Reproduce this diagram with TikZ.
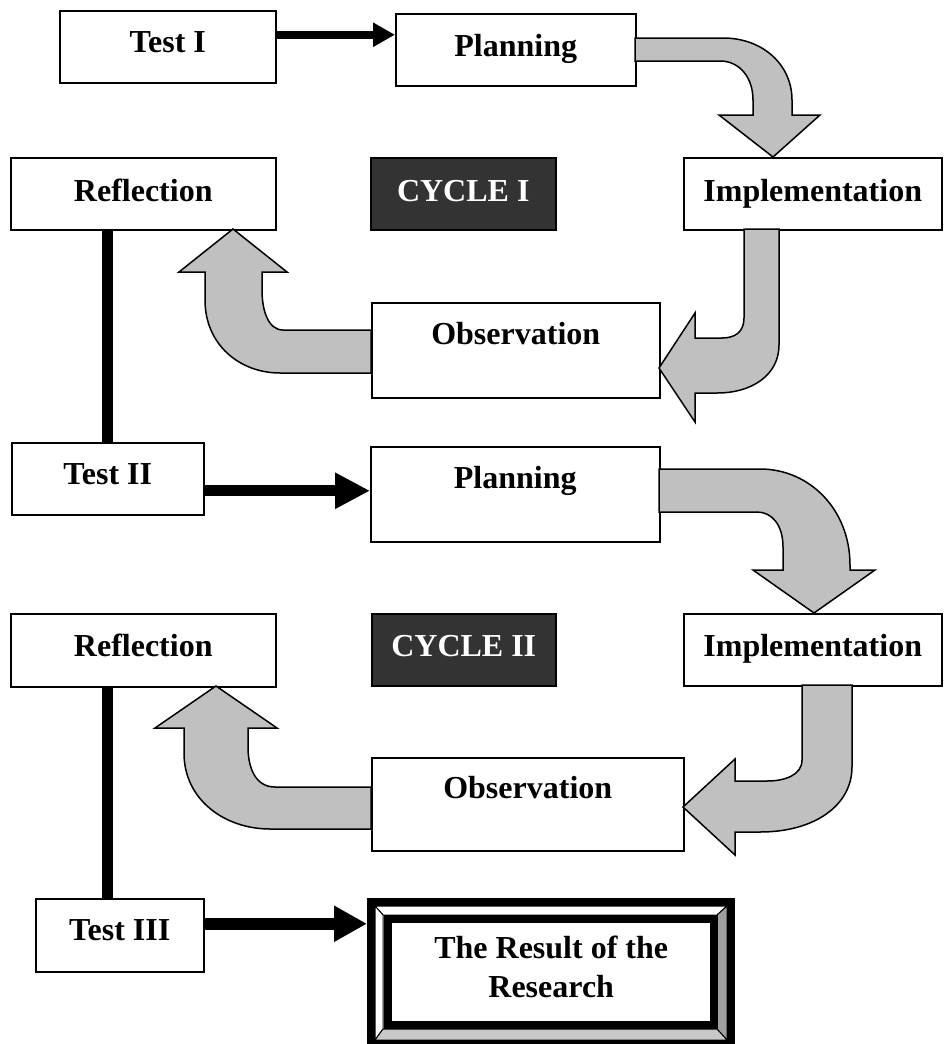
\documentclass[tikz,border=0pt]{standalone}
\usepackage{fontspec}
\setmainfont{Liberation Serif}
\usetikzlibrary{arrows.meta}
\definecolor{arrowgray}{HTML}{C0C0C0}
\definecolor{darkbox}{HTML}{333333}
\definecolor{bevelgray}{HTML}{A0A0A0}
\definecolor{bevellight}{HTML}{C8C8C8}
\begin{document}
\begin{tikzpicture}[x=1pt,y=-1pt,
  box/.style={draw=black, line width=1.5pt, fill=white, anchor=north west, inner sep=0pt},
  darkrect/.style={box, fill=darkbox},
  lbl/.style={font=\fontsize{32}{38}\selectfont\bfseries, anchor=base, inner sep=0pt},
  wlbl/.style={lbl, text=white},
  blockarrow/.style={draw=black, line width=1.5pt, fill=arrowgray, line join=miter},
  barline/.style={line width=11pt},
  bevel/.style={draw=black, line width=1pt, line join=miter},
]
\useasboundingbox (0,0) rectangle (943,1044);
\fill[white] (0,0) rectangle (943,1044);

% ---------- boxes ----------
\node[box, minimum width=216pt, minimum height=72pt] (t1) at (59,10) {};
\node[box, minimum width=240pt, minimum height=72pt] (p1) at (395,13) {};
\node[box, minimum width=265pt, minimum height=72pt] (r1) at (10,157) {};
\node[darkrect, minimum width=185pt, minimum height=72pt] (c1) at (370,157) {};
\node[box, minimum width=258pt, minimum height=72pt] (i1) at (683,157) {};
\node[box, minimum width=288pt, minimum height=95pt] (o1) at (371,302) {};
\node[box, minimum width=192pt, minimum height=72pt] (t2) at (11,442) {};
\node[box, minimum width=289pt, minimum height=95pt] (p2) at (370,446) {};
\node[box, minimum width=265pt, minimum height=73pt] (r2) at (10,613) {};
\node[darkrect, minimum width=184pt, minimum height=72pt] (c2) at (371,613) {};
\node[box, minimum width=258pt, minimum height=72pt] (i2) at (683,613) {};
\node[box, minimum width=312pt, minimum height=93pt] (o2) at (371,757) {};
\node[box, minimum width=168pt, minimum height=73pt] (t3) at (35,898) {};
\node[anchor=north west, inner sep=0pt, minimum width=368pt, minimum height=146pt] (res) at (367,898) {};

% ---------- labels ----------
\node[lbl] at (t1.center |- 0,52) {Test I};
\node[lbl] at (p1.center |- 0,56) {Planning};
\node[lbl] at (r1.center |- 0,201) {Reflection};
\node[wlbl] at (c1.center |- 0,201) {CYCLE I};
\node[lbl] at (i1.center |- 0,201) {Implementation};
\node[lbl] at (o1.center |- 0,344) {Observation};
\node[lbl] at (t2.center |- 0,484) {Test II};
\node[lbl] at (p2.center |- 0,488) {Planning};
\node[lbl] at (r2.center |- 0,656) {Reflection};
\node[wlbl] at (c2.center |- 0,656) {CYCLE II};
\node[lbl] at (i2.center |- 0,656) {Implementation};
\node[lbl] at (o2.center |- 0,798) {Observation};
\node[lbl] at (t3.center |- 0,940) {Test III};

% ---------- straight connectors ----------
\draw[line width=8pt, -{Triangle[length=22pt,width=23pt]}] ([yshift=12pt]t1.east) -- ([yshift=12pt]t1.east -| p1.west);
\draw[line width=11pt, -{Triangle[length=35pt,width=34pt]}] ([yshift=-12pt]t2.east) -- ([yshift=-12pt]t2.east -| p2.west);
\draw[line width=12pt, -{Triangle[length=33pt,width=34pt]}] ([yshift=11.5pt]t3.east) -- ([yshift=11.5pt]t3.east -| res.west);
\draw[barline] (t2.north) -- (t2.north |- r1.south);
\draw[barline] ([xshift=-12pt]t3.north) -- ([xshift=-12pt]t3.north |- r2.south);

% ---------- curved block arrows, cycle I ----------
\draw[blockarrow] (635,38) -- (723,38) .. controls (763,38) and (792,65) .. (792,100)
  -- (792,115) -- (820,115) -- (773,157) -- (719,115) -- (753,115) -- (753,100)
  .. controls (753,78) and (740,61) .. (720,61) -- (635,61) -- cycle;
\draw[blockarrow] (744,229) -- (744,318) .. controls (744,332) and (735,338) .. (722,338)
  -- (695,338) -- (695,313) -- (659,368) -- (695,422) -- (695,393) -- (717,393)
  .. controls (752,393) and (779,375) .. (779,345) -- (779,229) -- cycle;
\draw[blockarrow] (371,330) -- (283,330) .. controls (268,330) and (262,310) .. (262,290)
  -- (262,272) -- (287,272) -- (233,229) -- (179,272) -- (205,272) -- (205,300)
  .. controls (205,345) and (240,373) .. (280,373) -- (371,373) -- cycle;

% ---------- curved block arrows, cycle II ----------
\draw[blockarrow] (659,469) -- (760,469) .. controls (810,469) and (850,510) .. (850,565)
  -- (850,570) -- (875,570) -- (814,613) -- (753,570) -- (783,570) -- (783,547)
  .. controls (783,525) and (772,512) .. (757,512) -- (659,512) -- cycle;
\draw[blockarrow] (802,685) -- (802,760) .. controls (802,775) and (785,781) .. (767,781)
  -- (735,781) -- (735,759) -- (683,807) -- (735,855) -- (735,832) -- (760,832)
  .. controls (815,832) and (852,805) .. (852,767) -- (852,685) -- cycle;
\draw[blockarrow] (371,787) -- (275,787) .. controls (255,787) and (248,767) .. (248,747)
  -- (248,728) -- (277,728) -- (216,686) -- (155,728) -- (184,728) -- (184,753)
  .. controls (184,800) and (225,829) .. (270,829) -- (371,829) -- cycle;

% ---------- result box ----------
\draw[bevel, fill=white] (375,906) -- (727,906) -- (717,915) -- (383,915) -- cycle;
\draw[bevel, fill=white] (375,906) -- (383,915) -- (383,1029) -- (375,1040) -- cycle;
\draw[bevel, fill=bevelgray] (727,906) -- (727,1040) -- (717,1029) -- (717,915) -- cycle;
\draw[bevel, fill=bevellight] (375,1040) -- (727,1040) -- (717,1029) -- (383,1029) -- cycle;
\draw[line width=8pt, fill=white] (388,919) rectangle (713.5,1024.5);
\draw[line width=8pt] (371,902) rectangle (731,1044);
\node[lbl] at (res.center |- 0,958) {The Result of the};
\node[lbl] at (res.center |- 0,997) {Research};
\end{tikzpicture}
\end{document}
